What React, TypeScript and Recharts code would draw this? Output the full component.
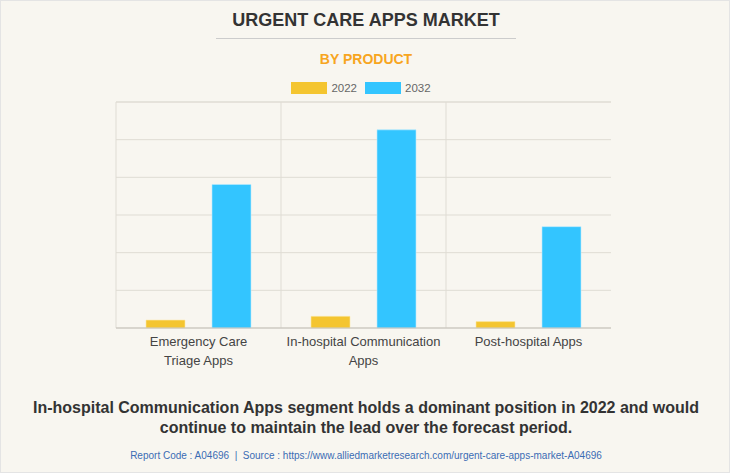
import { BarChart, Bar, XAxis, YAxis, CartesianGrid, Legend, ReferenceLine } from "recharts";

const CATEGORIES = [
  "Emergency Care Triage Apps",
  "In-hospital Communication Apps",
  "Post-hospital Apps",
];
const TICK_LINES = [
  ["Emergency Care", "Triage Apps"],
  ["In-hospital Communication", "Apps"],
  ["Post-hospital Apps"],
];
const VALUES_2022 = [0.21, 0.31, 0.17];
const VALUES_2032 = [3.81, 5.26, 2.69];
const Y_TICKS = [0, 1, 2, 3, 4, 5, 6];
const Y_MAX = Y_TICKS[Y_TICKS.length - 1];

const data = CATEGORIES.map((name, i) => ({
  name,
  y2022: VALUES_2022[i],
  y2032: VALUES_2032[i],
}));

const FONT = '"Liberation Sans", Arial, sans-serif';

function CategoryTick({ x, y, payload }: any) {
  const lines = TICK_LINES[CATEGORIES.indexOf(payload.value)] || [payload.value];
  return (
    <text x={x} y={y} textAnchor="middle" fontSize={13} fill="#444" fontFamily={FONT}>
      {lines.map((l, i) => (
        <tspan key={i} x={x} dy={i === 0 ? 10 : 19}>
          {l}
        </tspan>
      ))}
    </text>
  );
}

function LegendContent({ payload }: any) {
  return (
    <div style={{ display: "flex", justifyContent: "center", fontFamily: FONT }}>
      {(payload || []).map((e: any) => (
        <div key={e.value} style={{ display: "flex", alignItems: "center", marginRight: 8 }}>
          <span style={{ display: "inline-block", width: 36, height: 12, background: e.color, marginRight: 4 }} />
          <span style={{ fontSize: 11.5, color: "#666" }}>{e.value}</span>
        </div>
      ))}
    </div>
  );
}

export default function App() {
  // grid lines on the category boundaries, like the original
  const vLines = ({ offset }: any) => [
    offset.left,
    offset.left + offset.width / 3,
    offset.left + (offset.width * 2) / 3,
  ];
  const hLines = ({ offset }: any) =>
    Y_TICKS.map((t) => offset.top + offset.height * (1 - t / Y_MAX));

  return (
    <div
      style={{
        position: "relative",
        width: 730,
        height: 473,
        background: "#f8f6f0",
        border: "1px solid #e4e4e4",
        boxSizing: "border-box",
        fontFamily: FONT,
        overflow: "hidden",
      }}
    >
      <style>{`body{margin:0}`}</style>
      <div
        style={{
          position: "absolute",
          top: 9,
          left: 0,
          width: 730,
          textAlign: "center",
          fontSize: 18,
          fontWeight: "bold",
          color: "#333",
        }}
      >
        URGENT CARE APPS MARKET
      </div>
      <div style={{ position: "absolute", top: 37, left: 215, width: 300, height: 1, background: "#ccc" }} />
      <div
        style={{
          position: "absolute",
          top: 50,
          left: 0,
          width: 730,
          textAlign: "center",
          fontSize: 14,
          fontWeight: "bold",
          color: "#f7a520",
        }}
      >
        BY PRODUCT
      </div>

      <div style={{ position: "absolute", top: 0, left: 0 }}>
        <BarChart
          width={730}
          height={473}
          data={data}
          margin={{ top: 101, right: 120, bottom: 116, left: 115 }}
          barSize={39}
          barGap={27}
        >
          <CartesianGrid
            stroke="#dfdcd4"
            verticalCoordinatesGenerator={vLines}
            horizontalCoordinatesGenerator={hLines}
          />
          <XAxis
            dataKey="name"
            height={30}
            tickLine={false}
            axisLine={{ stroke: "#c4c1b9" }}
            tick={<CategoryTick />}
            interval={0}
          />
          <YAxis hide domain={[0, Y_MAX]} ticks={Y_TICKS} />
          <ReferenceLine y={Y_MAX} stroke="#dfdcd4" />
          <Legend
            verticalAlign="middle"
            align="center"
            layout="horizontal"
            wrapperStyle={{ top: 81, left: 0, width: 728 }}
            content={<LegendContent />}
          />
          <Bar dataKey="y2022" name="2022" fill="#f4c530" stroke="#fbe9a8" strokeWidth={0.6} isAnimationActive={false} />
          <Bar dataKey="y2032" name="2032" fill="#33c5ff" stroke="#b8ebff" strokeWidth={0.6} isAnimationActive={false} />
        </BarChart>
      </div>

      <div
        style={{
          position: "absolute",
          top: 397,
          left: 0,
          width: 730,
          textAlign: "center",
          fontSize: 16,
          fontWeight: "bold",
          color: "#333",
          lineHeight: "20px",
        }}
      >
        In-hospital Communication Apps segment holds a dominant position in 2022 and would
        <br />
        continue to maintain the lead over the forecast period.
      </div>
      <div
        style={{
          position: "absolute",
          top: 449,
          left: 0,
          width: 730,
          textAlign: "center",
          fontSize: 10,
          color: "#3b6cb4",
        }}
      >
        Report Code : A04696&nbsp; | &nbsp;Source : https://www.alliedmarketresearch.com/urgent-care-apps-market-A04696
      </div>
    </div>
  );
}
